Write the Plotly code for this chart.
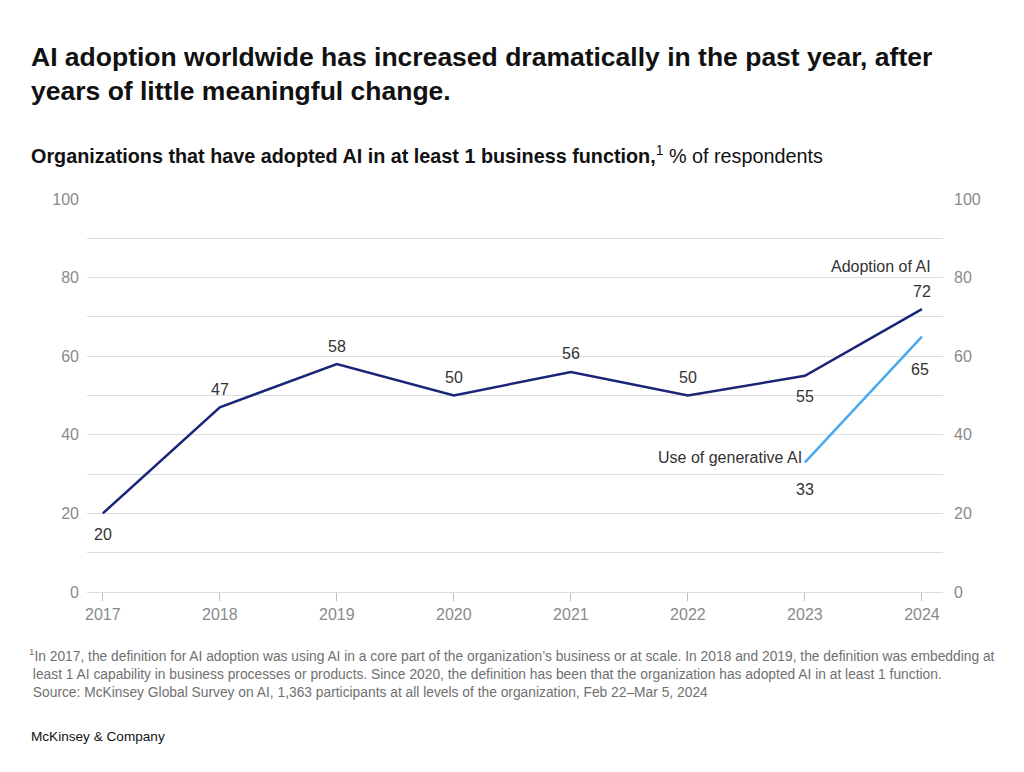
import plotly.graph_objects as go

years = [2017, 2018, 2019, 2020, 2021, 2022, 2023, 2024]
adoption = [20, 47, 58, 50, 56, 50, 55, 72]
genai_years = [2023, 2024]
genai = [33, 65]
adoption_pos = ["below", "above", "above", "above", "above", "above", "below", "above"]
y_ticks = [0, 20, 40, 60, 80, 100]

NAVY = "#1b2577"
LIGHT = "#4aa8ef"
GRAY = "#8a8a8a"
GRID = "#dcdcdc"
FONT = "Liberation Sans"

# page body has an 8px default margin; plot area is kept at x 87-943, y 199-592
fig = go.Figure()
fig.add_trace(go.Scatter(x=years, y=adoption, mode="lines",
                         line=dict(color=NAVY, width=2.5), hoverinfo="skip"))
fig.add_trace(go.Scatter(x=genai_years, y=genai, mode="lines",
                         line=dict(color=LIGHT, width=2.5), hoverinfo="skip"))
fig.add_trace(go.Scatter(x=[years[0]], y=[0], yaxis="y2", mode="markers",
                         marker=dict(opacity=0), hoverinfo="skip"))

lab_font = dict(size=16, color="#333333", family=FONT)
for x, v, p in zip(years, adoption, adoption_pos):
    fig.add_annotation(x=x, y=v, xref="x", yref="y", text=str(v), showarrow=False,
                       yshift=18 if p == "above" else -21, font=lab_font)
fig.add_annotation(x=genai_years[0], y=genai[0], xref="x", yref="y", text=str(genai[0]),
                   showarrow=False, yshift=-27, font=lab_font)
fig.add_annotation(x=genai_years[1], y=genai[1], xref="x", yref="y", text=str(genai[1]),
                   showarrow=False, yshift=-33, xshift=-2, font=lab_font)
fig.add_annotation(x=2024, y=72, xref="x", yref="y", text="Adoption of AI", showarrow=False,
                   xanchor="right", xshift=11, yshift=43, font=lab_font)
fig.add_annotation(x=2023, y=33, xref="x", yref="y", text="Use of generative AI", showarrow=False,
                   xanchor="right", xshift=-1, yshift=5, font=lab_font)

PW, PH = 856, 393
def px(xs):
    return (xs - 87) / PW
def py(ys):
    return (592 - ys) / PH

fig.add_annotation(xref="paper", yref="paper", x=px(29), y=py(40),
                   xanchor="left", yanchor="top", align="left", showarrow=False,
                   text="<b>AI adoption worldwide has increased dramatically in the past year, after<br>years of little meaningful change.</b>",
                   font=dict(size=26.5, color="#111111", family=FONT))
fig.add_annotation(xref="paper", yref="paper", x=px(29), y=py(140),
                   xanchor="left", yanchor="top", align="left", showarrow=False,
                   text="<b>Organizations that have adopted AI in at least 1 business function,</b><sup>1</sup> % of respondents",
                   font=dict(size=19.8, color="#111111", family=FONT))
fig.add_annotation(xref="paper", yref="paper", x=px(27), y=py(644),
                   xanchor="left", yanchor="top", align="left", showarrow=False,
                   text="<sup>1</sup>In 2017, the definition for AI adoption was using AI in a core part of the organization’s business or at scale. In 2018 and 2019, the definition was embedding at<br> least 1 AI capability in business processes or products. Since 2020, the definition has been that the organization has adopted AI in at least 1 function.<br> Source: McKinsey Global Survey on AI, 1,363 participants at all levels of the organization, Feb 22–Mar 5, 2024",
                   font=dict(size=13.8, color="#707070", family=FONT))
fig.add_annotation(xref="paper", yref="paper", x=px(29), y=py(727),
                   xanchor="left", yanchor="top", align="left", showarrow=False,
                   text="McKinsey & Company",
                   font=dict(size=13.6, color="#111111", family=FONT))

fig.update_layout(
    width=1016, height=764,
    margin=dict(l=79, r=81, t=191, b=180),
    paper_bgcolor="white", plot_bgcolor="white",
    showlegend=False,
    xaxis=dict(range=[2016.865, 2024.18], tickvals=years, ticktext=[str(y) for y in years],
               showgrid=False, zeroline=False, showline=False,
               ticks="outside", ticklen=8, tickcolor="#bdbdbd", tickwidth=1,
               tickfont=dict(size=16, color=GRAY, family=FONT), fixedrange=True),
    yaxis=dict(range=[0, 100], tickvals=y_ticks,
               showgrid=True, gridcolor=GRID, gridwidth=1,
               zeroline=True, zerolinecolor=GRID, zerolinewidth=1,
               minor=dict(dtick=10, tick0=0, showgrid=True, gridcolor=GRID, gridwidth=1, ticks=""),
               showline=False, ticks="", ticklabelstandoff=7,
               tickfont=dict(size=16, color=GRAY, family=FONT), fixedrange=True),
    yaxis2=dict(range=[0, 100], overlaying="y", side="right", tickvals=y_ticks,
                showgrid=False, zeroline=False, showline=False, ticks="",
                ticklabelstandoff=10,
                tickfont=dict(size=16, color=GRAY, family=FONT), fixedrange=True),
)

fig.write_html("out.html")
